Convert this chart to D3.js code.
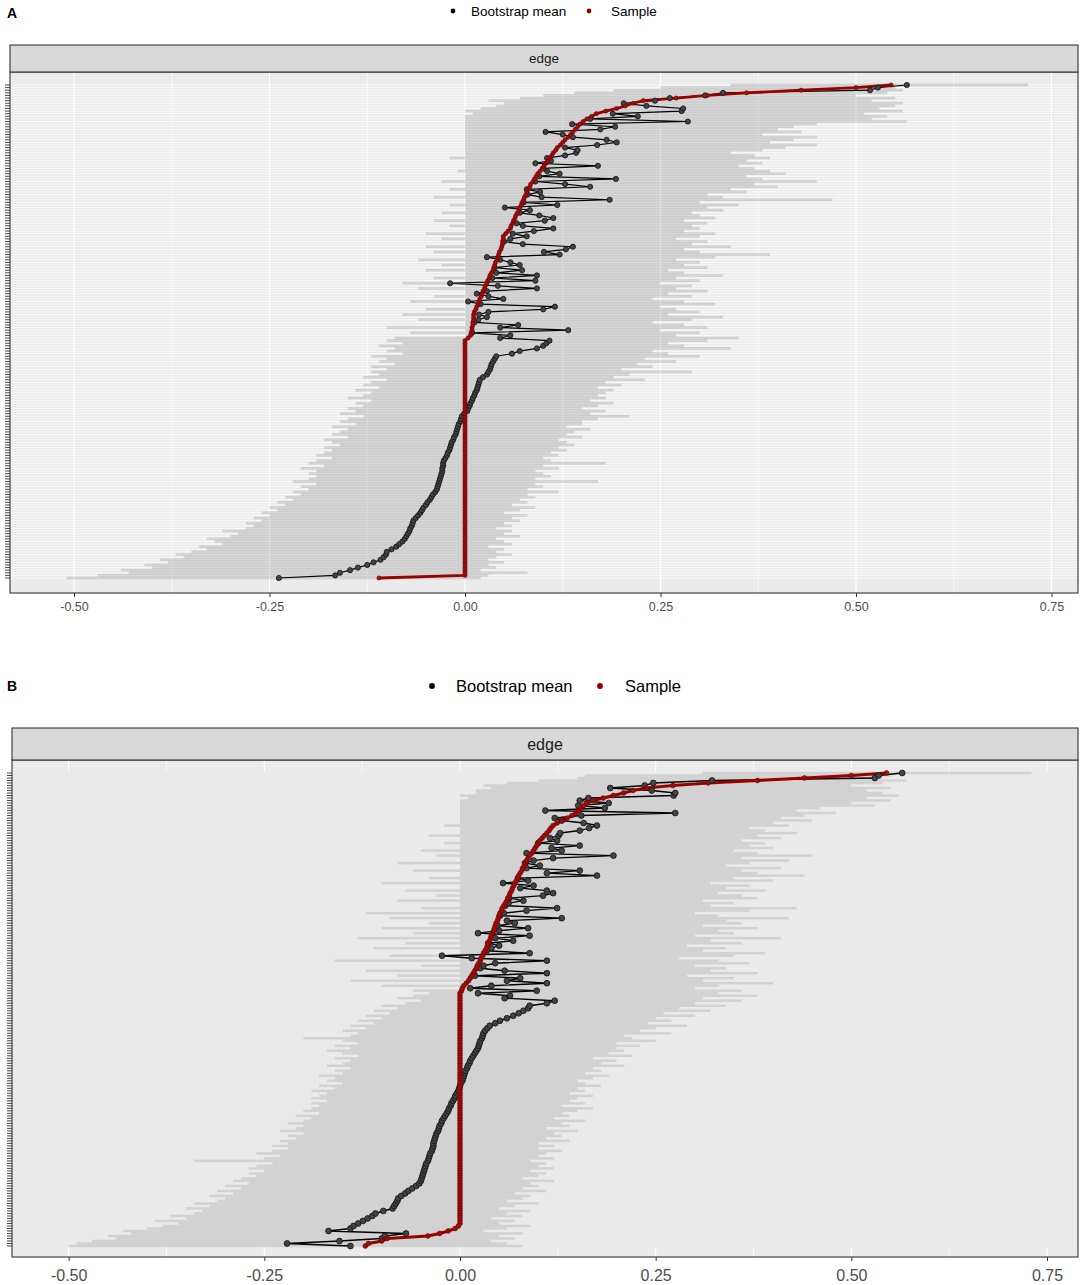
<!DOCTYPE html>
<html>
<head>
<meta charset="utf-8">
<script src="https://cdnjs.cloudflare.com/ajax/libs/d3/7.8.5/d3.min.js"></script>
<style>
  body { margin: 0; background: #fff; }
  svg { display: block; font-family: "Liberation Sans", Arial, sans-serif; }
</style>
</head>
<body>
<div id="chart"></div>
<script>
// Define dimensions
const width = 1084;
const height = 1285;

// Axis ticks and legend
const xTickValues = [-0.5, -0.25, 0, 0.25, 0.5, 0.75];
const xTickLabels = ["-0.50", "-0.25", "0.00", "0.25", "0.50", "0.75"];
const xMinorValues = [-0.375, -0.125, 0.125, 0.375, 0.625];
const legendLabels = ["Bootstrap mean", "Sample"];
const stripLabel = "edge";

// Panel A: edges ordered from lowest sample weight (bottom row) to highest (top row)
const sampleA = [-0.11,
  0,0,0,0,0,0,0,0,0,0, 0,0,0,0,0,0,0,0,0,0, 0,0,0,0,0,0,0,0,0,0,
  0,0,0,0,0,0,0,0,0,0, 0,0,0,0,0,0,0,0,0,0, 0,0,0,0,0,0,0,0,0,0,
  0,0,0,0,0,0,0,0,0,0, 0,0,0,0,0,0,0,0,0,0, 0,0,0,0,0,0,0,0,0,0, 0,
  0.004,0.007,0.008,0.009,0.009,0.010,0.010,0.011,0.011,0.011,
  0.012,0.014,0.015,0.017,0.018,0.019,0.021,0.022,0.023,0.025,
  0.026,0.028,0.029,0.031,0.032,0.034,0.036,0.037,0.038,0.039,
  0.041,0.042,0.043,0.044,0.046,0.047,0.048,0.048,0.049,0.049,
  0.052,0.055,0.058,0.059,0.061,0.062,0.064,0.065,0.067,0.069,
  0.070,0.072,0.073,0.075,0.076,0.078,0.079,0.081,0.083,0.084,
  0.087,0.089,0.091,0.093,0.096,0.099,0.101,0.104,0.106,0.108,
  0.111,0.113,0.116,0.118,0.122,0.125,0.128,0.132,0.135,0.138,
  0.141,0.144,0.147,0.151,0.156,0.162,0.168,0.180,0.194,0.205,
  0.215,0.228,0.270,0.310,0.360,0.430,0.500,0.545];

const meanA = [
  -0.238,-0.166,-0.160,-0.147,-0.137,-0.125,-0.117,-0.108,-0.104,-0.101,
  -0.100,-0.094,-0.088,-0.084,-0.080,-0.077,-0.075,-0.073,-0.071,-0.070,
  -0.068,-0.067,-0.066,-0.063,-0.060,-0.057,-0.055,-0.053,-0.050,-0.048,
  -0.045,-0.043,-0.041,-0.038,-0.036,-0.035,-0.034,-0.033,-0.032,-0.031,
  -0.030,-0.029,-0.029,-0.028,-0.028,-0.027,-0.025,-0.023,-0.022,-0.020,
  -0.019,-0.018,-0.017,-0.015,-0.014,-0.012,-0.011,-0.010,-0.009,-0.008,
  -0.006,-0.005,-0.004,-0.001,0.003,0.004,0.006,0.007,0.009,0.010,
  0.012,0.013,0.015,0.016,0.017,0.018,0.019,0.023,0.028,0.030,
  0.032,0.033,0.034,0.036,0.038,0.040,0.060,0.070,0.092,0.100,0.104,0.108,
  0.045,0.058,0.009,0.132,0.045,0.068,0.012,0.017,0.028,0.018,
  0.030,0.100,0.115,0.020,0.004,0.049,0.030,0.015,0.028,0.092,
  0.042,-0.019,0.090,0.035,0.092,0.040,0.073,0.038,0.070,0.058,
  0.045,0.028,0.121,0.101,0.129,0.138,0.074,0.050,0.058,0.079,
  0.061,0.088,0.113,0.074,0.066,0.102,0.113,0.095,0.070,0.083,
  0.051,0.118,0.075,0.185,0.098,0.080,0.096,0.079,0.160,0.128,
  0.090,0.193,0.095,0.121,0.105,0.100,0.170,0.090,0.110,0.105,
  0.128,0.142,0.144,0.128,0.169,0.194,0.181,0.138,0.125,0.103,
  0.173,0.192,0.137,0.285,0.160,0.221,0.189,0.277,0.279,0.232,
  0.203,0.243,0.262,0.307,0.330,0.518,0.528,0.565];

const lowerA = [
  -0.51,-0.47,-0.43,-0.44,-0.40,-0.41,-0.38,-0.39,-0.36,-0.37,
  -0.35,-0.33,-0.34,-0.31,-0.32,-0.33,-0.30,-0.29,-0.31,-0.28,
  -0.27,-0.28,-0.26,-0.27,-0.25,-0.26,-0.24,-0.25,-0.23,-0.24,
  -0.22,-0.23,-0.21,-0.22,-0.20,-0.21,-0.19,-0.22,-0.20,-0.19,
  -0.20,-0.19,-0.21,-0.18,-0.20,-0.19,-0.17,-0.19,-0.18,-0.17,
  -0.18,-0.16,-0.17,-0.18,-0.15,-0.17,-0.16,-0.15,-0.17,-0.14,
  -0.16,-0.15,-0.13,-0.16,-0.14,-0.15,-0.13,-0.14,-0.12,-0.15,
  -0.13,-0.12,-0.14,-0.11,-0.13,-0.12,-0.10,-0.13,-0.11,-0.12,
  -0.10,-0.12,-0.09,-0.11,-0.10,-0.12,-0.08,-0.10,-0.09,-0.11,-0.08,-0.10,
  -0.09,0.00,-0.07,0.00,-0.10,0.00,0.00,-0.06,0.00,-0.08,
  0.00,-0.05,0.00,0.00,-0.07,0.00,-0.04,0.00,0.00,-0.06,
  0.00,-0.08,0.00,-0.04,0.00,0.00,-0.05,0.00,-0.03,0.00,
  -0.06,0.00,0.00,-0.04,0.00,-0.05,0.00,0.00,-0.03,0.00,
  -0.05,0.00,0.00,-0.02,0.00,-0.04,0.00,0.00,-0.03,0.00,
  0.00,-0.02,0.00,0.00,-0.04,0.00,0.00,-0.02,0.00,0.00,
  -0.03,0.00,0.00,0.00,-0.01,0.00,0.00,0.00,0.00,-0.02,
  0.00,0.00,0.00,0.00,0.00,0.00,0.00,0.00,0.00,0.00,
  0.00,0.00,0.00,0.00,0.00,0.00,0.01,0.00,0.02,0.04,
  0.05,0.03,0.07,0.10,0.14,0.19,0.25,0.34];

const upperA = [
  0.02,0.03,0.08,0.02,0.04,0.03,0.05,0.03,0.04,0.06,
  0.04,0.05,0.03,0.06,0.05,0.04,0.07,0.05,0.06,0.04,
  0.06,0.05,0.07,0.06,0.08,0.05,0.07,0.09,0.06,0.08,
  0.07,0.09,0.08,0.12,0.08,0.10,0.09,0.17,0.09,0.11,
  0.10,0.09,0.12,0.10,0.18,0.11,0.10,0.12,0.11,0.13,
  0.12,0.14,0.13,0.12,0.15,0.13,0.14,0.16,0.13,0.15,
  0.15,0.17,0.21,0.16,0.18,0.15,0.17,0.19,0.16,0.18,
  0.17,0.18,0.19,0.17,0.20,0.18,0.23,0.19,0.21,0.29,
  0.20,0.24,0.22,0.27,0.23,0.30,0.26,0.24,0.34,0.28,0.26,0.31,
  0.35,0.27,0.30,0.25,0.31,0.28,0.24,0.29,0.33,0.26,
  0.30,0.27,0.25,0.32,0.28,0.24,0.29,0.26,0.31,0.27,
  0.29,0.25,0.30,0.27,0.33,0.28,0.26,0.31,0.28,0.30,
  0.27,0.32,0.39,0.30,0.28,0.34,0.29,0.31,0.27,0.30,
  0.32,0.28,0.30,0.29,0.31,0.28,0.32,0.30,0.29,0.33,
  0.31,0.35,0.30,0.47,0.33,0.31,0.36,0.34,0.40,0.37,
  0.45,0.38,0.36,0.41,0.39,0.37,0.35,0.38,0.36,0.39,
  0.37,0.34,0.38,0.41,0.45,0.39,0.42,0.45,0.38,0.43,
  0.40,0.42,0.45,0.565,0.52,0.54,0.51,0.56,0.53,0.55,
  0.56,0.52,0.55,0.50,0.54,0.56,0.55,0.72];

// Panel B: same layout, second network
const sampleB = [-0.121,-0.117,-0.100,-0.093,-0.041,-0.026,-0.015,-0.006,-0.002,
  0,0,0,0,0,0,0,0,0,0, 0,0,0,0,0,0,0,0,0,0, 0,0,0,0,0,0,0,0,0,0,
  0,0,0,0,0,0,0,0,0,0, 0,0,0,0,0,0,0,0,0,0, 0,0,0,0,0,0,0,0,0,0,
  0,0,0,0,0,0,0,0,0,0, 0,0,0,0,0,0,0,0,0,0, 0,0,0,0,0,0,0,0,0,0, 0,0,0,
  0.002,0.003,0.005,0.008,0.011,0.013,0.015,0.017,0.019,0.021,
  0.022,0.024,0.026,0.027,0.029,0.030,0.032,0.034,0.035,0.036,
  0.038,0.039,0.040,0.042,0.043,0.044,0.045,0.046,0.048,0.049,
  0.050,0.051,0.053,0.054,0.056,0.058,0.060,0.061,0.063,0.064,
  0.066,0.067,0.069,0.070,0.072,0.074,0.075,0.077,0.079,0.080,
  0.082,0.083,0.085,0.087,0.089,0.092,0.094,0.096,0.098,0.100,
  0.102,0.105,0.108,0.111,0.114,0.116,0.119,0.124,0.130,0.137,
  0.143,0.148,0.152,0.155,0.158,0.162,0.170,0.183,0.196,0.209,
  0.221,0.238,0.272,0.317,0.380,0.440,0.500,0.545];

const meanB = [-0.140,-0.221,-0.154,-0.100,-0.096,-0.069,-0.168,-0.140,-0.136,
  -0.130,
  -0.124,-0.118,-0.112,-0.108,-0.098,-0.086,-0.084,-0.082,-0.080,-0.079,
  -0.075,-0.070,-0.066,-0.061,-0.056,-0.052,-0.050,-0.049,-0.048,-0.047,
  -0.046,-0.045,-0.044,-0.043,-0.041,-0.040,-0.039,-0.038,-0.036,-0.035,
  -0.034,-0.034,-0.033,-0.032,-0.031,-0.030,-0.028,-0.027,-0.026,-0.024,
  -0.023,-0.021,-0.019,-0.017,-0.015,-0.014,-0.012,-0.011,-0.009,-0.007,
  -0.006,-0.004,-0.002,-0.001,0.000,0.001,0.003,0.004,0.005,0.006,
  0.007,0.009,0.010,0.012,0.013,0.015,0.017,0.019,0.021,0.023,
  0.024,0.025,0.026,0.028,0.029,0.030,0.032,0.035,0.038,0.045,
  0.051,0.060,0.068,0.075,0.081,0.087,0.089,0.111,0.121,0.057,0.064,0.023,
  0.098,0.013,0.040,0.111,0.060,0.077,0.019,0.111,0.057,0.026,
  0.030,0.045,0.111,0.015,-0.023,0.089,0.034,0.040,0.050,0.036,
  0.068,0.045,0.089,0.023,0.050,0.087,0.048,0.070,0.060,0.130,
  0.051,0.056,0.085,0.124,0.058,0.062,0.081,0.063,0.106,0.119,
  0.111,0.077,0.094,0.055,0.087,0.074,0.175,0.111,0.153,0.085,
  0.102,0.083,0.094,0.119,0.196,0.085,0.130,0.117,0.153,0.100,
  0.124,0.115,0.126,0.128,0.153,0.165,0.175,0.158,0.130,0.121,
  0.155,0.275,0.109,0.185,0.151,0.190,0.153,0.164,0.273,0.275,
  0.245,0.192,0.236,0.247,0.322,0.530,0.535,0.565];

const lowerB = [
  -0.50,-0.49,-0.47,-0.44,-0.45,-0.42,-0.43,-0.40,-0.38,-0.36,
  -0.39,-0.35,-0.37,-0.34,-0.33,-0.35,-0.32,-0.34,-0.31,-0.30,
  -0.32,-0.29,-0.31,-0.28,-0.30,-0.27,-0.29,-0.28,-0.26,-0.27,
  -0.25,-0.27,-0.26,-0.24,-0.34,-0.25,-0.23,-0.26,-0.24,-0.22,
  -0.24,-0.22,-0.23,-0.21,-0.22,-0.20,-0.23,-0.21,-0.20,-0.22,
  -0.20,-0.19,-0.21,-0.18,-0.20,-0.19,-0.18,-0.19,-0.17,-0.19,
  -0.18,-0.17,-0.19,-0.16,-0.18,-0.15,-0.17,-0.16,-0.18,-0.15,
  -0.16,-0.14,-0.17,-0.15,-0.14,-0.16,-0.13,-0.15,-0.17,-0.14,
  -0.16,-0.13,-0.15,-0.20,-0.14,-0.13,-0.15,-0.12,-0.14,-0.11,
  -0.13,-0.10,-0.12,-0.09,-0.11,-0.08,-0.10,-0.07,-0.05,-0.08,-0.06,-0.04,
  -0.06,0.00,-0.10,0.00,-0.14,0.00,-0.08,0.00,-0.12,0.00,
  -0.05,0.00,-0.16,0.00,-0.09,0.00,0.00,-0.11,0.00,-0.07,
  0.00,-0.13,0.00,-0.06,0.00,-0.10,0.00,-0.04,0.00,-0.09,
  0.00,-0.12,0.00,-0.05,0.00,0.00,-0.08,0.00,-0.03,0.00,
  -0.07,0.00,0.00,-0.10,0.00,-0.04,0.00,0.00,-0.06,0.00,
  0.00,-0.08,0.00,0.00,-0.03,0.00,-0.05,0.00,0.00,-0.02,
  0.00,0.00,-0.04,0.00,0.00,0.00,-0.02,0.00,0.00,0.00,
  0.00,0.00,0.00,0.00,0.00,0.00,0.00,0.01,0.00,0.02,
  0.02,0.04,0.03,0.06,0.10,0.15,0.16,0.31];

const upperB = [
  0.08,0.06,0.04,0.07,0.05,0.08,0.03,0.06,0.09,0.05,
  0.07,0.04,0.08,0.06,0.09,0.05,0.07,0.10,0.06,0.08,
  0.09,0.07,0.11,0.08,0.10,0.09,0.12,0.08,0.10,0.11,
  0.09,0.12,0.10,0.11,0.09,0.12,0.10,0.11,0.13,0.10,
  0.12,0.10,0.14,0.11,0.13,0.12,0.15,0.11,0.14,0.13,
  0.16,0.12,0.14,0.13,0.15,0.17,0.13,0.16,0.14,0.15,
  0.17,0.14,0.16,0.15,0.18,0.16,0.15,0.17,0.19,0.16,
  0.18,0.17,0.21,0.18,0.20,0.17,0.22,0.19,0.21,0.20,
  0.23,0.20,0.25,0.22,0.21,0.27,0.23,0.25,0.29,0.24,
  0.27,0.25,0.30,0.26,0.32,0.28,0.34,0.30,0.36,0.31,0.38,0.33,
  0.36,0.30,0.33,0.40,0.31,0.35,0.29,0.38,0.32,0.34,
  0.30,0.37,0.33,0.28,0.35,0.39,0.31,0.34,0.29,0.36,
  0.32,0.41,0.30,0.35,0.33,0.38,0.31,0.36,0.34,0.42,
  0.33,0.30,0.37,0.43,0.32,0.35,0.31,0.38,0.36,0.33,
  0.39,0.34,0.37,0.32,0.40,0.35,0.44,0.38,0.36,0.41,
  0.34,0.37,0.42,0.36,0.45,0.38,0.35,0.40,0.37,0.39,
  0.36,0.41,0.38,0.43,0.39,0.37,0.42,0.40,0.45,0.41,
  0.44,0.48,0.43,0.46,0.53,0.50,0.55,0.52,0.56,0.54,
  0.52,0.55,0.50,0.54,0.57,0.53,0.55,0.73];

// Layout of the two panels (the second one was exported at a larger text size)
const panelA = {
  label: "A", labelY: 18, legendY: 11, legendFont: 13.5, legendR: 2.4,
  legendX: [453, 471, 589, 611],
  left: 10, right: 1078, stripTop: 45, stripBottom: 72, plotBottom: 593,
  rowBottom: 578, rowTop: 85, zeroPx: 465, pxPerUnit: 782,
  stripFont: 13.5, tickFont: 12.5, tickPad: 5.5, rowGrid: true, bandOpacity: 0.13,
  meanR: 2.6, sampleR: 2.1, meanLine: 1.2, sampleLine: 2.8
};
const panelB = {
  label: "B", labelY: 691, legendY: 686, legendFont: 16.5, legendR: 2.9,
  legendX: [432, 456, 600, 625],
  left: 12, right: 1078, stripTop: 728, stripBottom: 760, plotBottom: 1257,
  rowBottom: 1246, rowTop: 773, zeroPx: 460, pxPerUnit: 782.7,
  stripFont: 16, tickFont: 16, tickPad: 8.5, rowGrid: false, bandOpacity: 0.1,
  meanR: 2.9, sampleR: 2.4, meanLine: 1.4, sampleLine: 3.2
};

const svg = d3.select('#chart')
  .append('svg')
  .attr('width', width)
  .attr('height', height);

function drawPanel(cfg, sample, mean, lower, upper) {
  const n = sample.length;
  const rows = d3.range(n).map(i => ({ i, s: sample[i], m: mean[i], lo: lower[i], hi: upper[i] }));

  const x = d3.scaleLinear()
    .domain([(cfg.left - cfg.zeroPx) / cfg.pxPerUnit, (cfg.right - cfg.zeroPx) / cfg.pxPerUnit])
    .range([cfg.left, cfg.right]);
  const y = d3.scaleLinear()
    .domain([0, n - 1])
    .range([cfg.rowBottom, cfg.rowTop]);
  const step = Math.abs(y(1) - y(0));

  const g = svg.append('g');
  const plotH = cfg.plotBottom - cfg.stripBottom;

  // Panel background and grid
  g.append('rect')
    .attr('x', cfg.left).attr('y', cfg.stripBottom)
    .attr('width', cfg.right - cfg.left).attr('height', plotH)
    .attr('fill', '#EBEBEB');

  g.selectAll('.minor')
    .data(xMinorValues)
    .enter().append('line')
    .attr('x1', d => x(d)).attr('x2', d => x(d))
    .attr('y1', cfg.stripBottom).attr('y2', cfg.plotBottom)
    .attr('stroke', '#fff').attr('stroke-width', 0.7);

  g.selectAll('.major')
    .data(xTickValues)
    .enter().append('line')
    .attr('x1', d => x(d)).attr('x2', d => x(d))
    .attr('y1', cfg.stripBottom).attr('y2', cfg.plotBottom)
    .attr('stroke', '#fff').attr('stroke-width', 1.1);

  if (cfg.rowGrid) {
    g.selectAll('.hgrid')
      .data(rows)
      .enter().append('line')
      .attr('x1', cfg.left).attr('x2', cfg.right)
      .attr('y1', d => y(d.i)).attr('y2', d => y(d.i))
      .attr('stroke', '#fff').attr('stroke-width', 0.7);
  } else {
    g.append('rect')
      .attr('x', cfg.left).attr('y', cfg.rowTop - step / 2)
      .attr('width', cfg.right - cfg.left).attr('height', cfg.rowBottom - cfg.rowTop + step)
      .attr('fill', '#EAEAEA');
  }

  // Bootstrap CI area, one strip per edge
  g.selectAll('.band')
    .data(rows)
    .enter().append('rect')
    .attr('x', d => x(d.lo))
    .attr('y', d => y(d.i) - step / 2)
    .attr('width', d => x(d.hi) - x(d.lo))
    .attr('height', step)
    .attr('fill', '#000')
    .attr('fill-opacity', cfg.bandOpacity);

  // Lines: bootstrap mean, then sample
  const meanLine = d3.line().x(d => x(d.m)).y(d => y(d.i));
  const sampleLine = d3.line().x(d => x(d.s)).y(d => y(d.i));

  g.append('path')
    .attr('d', meanLine(rows))
    .attr('fill', 'none').attr('stroke', '#000')
    .attr('stroke-width', cfg.meanLine).attr('stroke-linejoin', 'round');

  g.append('path')
    .attr('d', sampleLine(rows))
    .attr('fill', 'none').attr('stroke', '#990000')
    .attr('stroke-width', cfg.sampleLine).attr('stroke-linejoin', 'round');

  g.selectAll('.mean-pt')
    .data(rows)
    .enter().append('circle')
    .attr('cx', d => x(d.m)).attr('cy', d => y(d.i))
    .attr('r', cfg.meanR)
    .attr('fill', '#444').attr('stroke', '#111').attr('stroke-width', 0.8);

  g.selectAll('.sample-pt')
    .data(rows)
    .enter().append('circle')
    .attr('cx', d => x(d.s)).attr('cy', d => y(d.i))
    .attr('r', cfg.sampleR)
    .attr('fill', '#9a0e0e').attr('stroke', '#7a0000').attr('stroke-width', 0.6);

  // Panel and strip borders
  g.append('rect')
    .attr('x', cfg.left).attr('y', cfg.stripBottom)
    .attr('width', cfg.right - cfg.left).attr('height', plotH)
    .attr('fill', 'none').attr('stroke', '#333').attr('stroke-width', 1.1);

  g.append('rect')
    .attr('x', cfg.left).attr('y', cfg.stripTop)
    .attr('width', cfg.right - cfg.left).attr('height', cfg.stripBottom - cfg.stripTop)
    .attr('fill', '#D9D9D9').attr('stroke', '#333').attr('stroke-width', 1.1);

  g.append('text')
    .attr('x', (cfg.left + cfg.right) / 2)
    .attr('y', (cfg.stripTop + cfg.stripBottom) / 2)
    .attr('text-anchor', 'middle')
    .attr('dominant-baseline', 'central')
    .attr('font-size', cfg.stripFont)
    .attr('fill', '#1A1A1A')
    .text(stripLabel);

  // x axis
  const xAxis = d3.axisBottom(x)
    .tickValues(xTickValues)
    .tickFormat((d, i) => xTickLabels[i])
    .tickSize(4)
    .tickPadding(cfg.tickPad);

  const ax = g.append('g')
    .attr('transform', `translate(0,${cfg.plotBottom})`)
    .call(xAxis);
  ax.select('.domain').remove();
  ax.selectAll('line').attr('stroke', '#333');
  ax.selectAll('text')
    .attr('fill', '#4D4D4D')
    .attr('font-size', cfg.tickFont)
    .attr('font-family', '"Liberation Sans", Arial, sans-serif');

  // y axis ticks (edge labels are not shown)
  g.selectAll('.ytick')
    .data(rows)
    .enter().append('line')
    .attr('x1', cfg.left - 5).attr('x2', cfg.left)
    .attr('y1', d => y(d.i)).attr('y2', d => y(d.i))
    .attr('stroke', '#333').attr('stroke-width', 0.9);

  // Legend
  const lx = cfg.legendX;
  g.append('circle').attr('cx', lx[0]).attr('cy', cfg.legendY).attr('r', cfg.legendR).attr('fill', '#000');
  g.append('circle').attr('cx', lx[2]).attr('cy', cfg.legendY).attr('r', cfg.legendR).attr('fill', '#8B0000');
  [lx[1], lx[3]].forEach((tx, i) => {
    g.append('text')
      .attr('x', tx)
      .attr('y', cfg.legendY)
      .attr('dominant-baseline', 'central')
      .attr('font-size', cfg.legendFont)
      .attr('fill', '#000')
      .text(legendLabels[i]);
  });

  // Panel letter
  g.append('text')
    .attr('x', 7)
    .attr('y', cfg.labelY)
    .attr('font-size', 14)
    .attr('font-weight', 'bold')
    .attr('fill', '#000')
    .text(cfg.label);
}

drawPanel(panelA, sampleA, meanA, lowerA, upperA);
drawPanel(panelB, sampleB, meanB, lowerB, upperB);
</script>
</body>
</html>
